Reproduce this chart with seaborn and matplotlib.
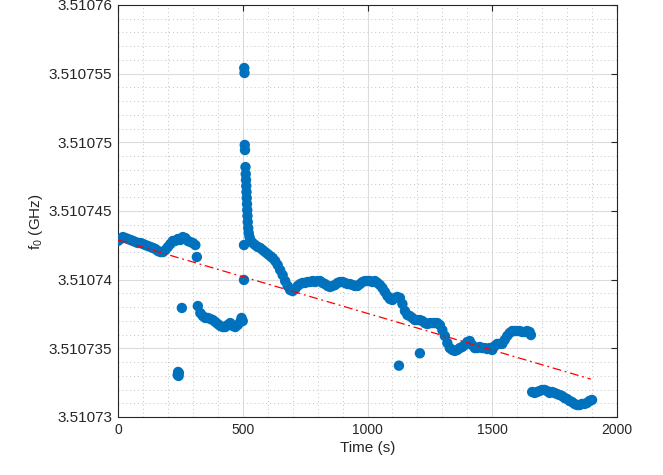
import matplotlib
matplotlib.use("Agg")
import matplotlib.pyplot as plt
from matplotlib.ticker import MultipleLocator, FuncFormatter
import seaborn as sns
import pandas as pd

# ---- measured resonance frequency f0 (GHz) versus time (s) ----
# early plateau
time_a = [0, 10, 20, 30, 40, 50, 60, 70, 80, 90, 100, 110, 120, 130, 140, 150,
          160, 170, 180, 190, 200, 210, 220, 230, 240, 250, 260, 270, 280, 290, 300, 310]
f0_a = [3.51074282, 3.51074296, 3.51074310, 3.51074303, 3.51074296, 3.51074289,
        3.51074282, 3.51074274, 3.51074267, 3.51074267, 3.51074260, 3.51074252,
        3.51074245, 3.51074238, 3.51074231, 3.51074223, 3.51074209, 3.51074201,
        3.51074201, 3.51074216, 3.51074238, 3.51074260, 3.51074282, 3.51074282,
        3.51074296, 3.51074289, 3.51074310, 3.51074303, 3.51074282, 3.51074274,
        3.51074267, 3.51074252]

# lower branch
time_b = [320, 330, 340, 350, 360, 370, 380, 390, 400, 410, 420, 430, 440, 450,
          460, 470, 480, 490, 495, 500]
f0_b = [3.51073808, 3.51073757, 3.51073735, 3.51073721, 3.51073721, 3.51073714,
        3.51073706, 3.51073692, 3.51073677, 3.51073663, 3.51073655, 3.51073655,
        3.51073670, 3.51073684, 3.51073663, 3.51073655, 3.51073670, 3.51073692,
        3.51073721, 3.51073699]

# jump and relaxation
time_s = [506, 507, 508, 509, 511, 512, 513, 514, 515, 516, 517, 518, 519, 520,
          522, 524, 527, 530]
f0_s = [3.51075541, 3.51075505, 3.51074981, 3.51074944, 3.51074820, 3.51074769,
        3.51074726, 3.51074682, 3.51074638, 3.51074595, 3.51074551, 3.51074507,
        3.51074464, 3.51074420, 3.51074376, 3.51074340, 3.51074311, 3.51074289]

# main drift
time_c = [540, 550, 560, 570, 580, 590, 600, 610, 620, 630, 640, 650, 660, 670,
          680, 690, 700, 710, 720, 730, 740, 750, 760, 770, 780, 790, 800, 810,
          820, 830, 840, 850, 860, 870, 880, 890, 900, 910, 920, 930, 940, 950,
          960, 970, 980, 990, 1000, 1010, 1020, 1030, 1040, 1050, 1060, 1070,
          1080, 1090, 1100, 1110, 1120, 1130, 1140, 1150, 1160, 1170, 1180, 1190,
          1200, 1210, 1220, 1230, 1240, 1250, 1260, 1270, 1280, 1290, 1300, 1310,
          1320, 1330, 1340, 1350, 1360, 1370, 1380, 1390, 1400, 1410, 1420, 1430,
          1440, 1450, 1460, 1470, 1480, 1490, 1500, 1510, 1520, 1530, 1540, 1550,
          1560, 1570, 1580, 1590, 1600, 1610, 1620, 1630, 1640, 1650, 1655]
f0_c = [3.51074267, 3.51074252, 3.51074238, 3.51074231, 3.51074216, 3.51074201,
        3.51074187, 3.51074172, 3.51074158, 3.51074136, 3.51074107, 3.51074070,
        3.51074034, 3.51073990, 3.51073954, 3.51073925, 3.51073917, 3.51073932,
        3.51073954, 3.51073968, 3.51073976, 3.51073976, 3.51073983, 3.51073983,
        3.51073990, 3.51073983, 3.51073990, 3.51073990, 3.51073976, 3.51073968,
        3.51073954, 3.51073947, 3.51073954, 3.51073961, 3.51073976, 3.51073983,
        3.51073983, 3.51073976, 3.51073968, 3.51073968, 3.51073961, 3.51073954,
        3.51073954, 3.51073968, 3.51073983, 3.51073990, 3.51073990, 3.51073990,
        3.51073983, 3.51073990, 3.51073976, 3.51073961, 3.51073939, 3.51073910,
        3.51073881, 3.51073859, 3.51073852, 3.51073867, 3.51073874, 3.51073867,
        3.51073823, 3.51073772, 3.51073743, 3.51073735, 3.51073721, 3.51073706,
        3.51073706, 3.51073706, 3.51073699, 3.51073684, 3.51073677, 3.51073684,
        3.51073684, 3.51073684, 3.51073684, 3.51073670, 3.51073633, 3.51073590,
        3.51073539, 3.51073502, 3.51073488, 3.51073481, 3.51073488, 3.51073502,
        3.51073510, 3.51073524, 3.51073546, 3.51073553, 3.51073524, 3.51073502,
        3.51073502, 3.51073510, 3.51073502, 3.51073502, 3.51073495, 3.51073502,
        3.51073488, 3.51073517, 3.51073532, 3.51073532, 3.51073532, 3.51073561,
        3.51073590, 3.51073612, 3.51073626, 3.51073626, 3.51073626, 3.51073626,
        3.51073619, 3.51073619, 3.51073626, 3.51073619, 3.51073597]

# final low plateau
time_d = [1660, 1670, 1680, 1690, 1700, 1710, 1720, 1730, 1740, 1750, 1760, 1770,
          1780, 1790, 1800, 1810, 1820, 1830, 1840, 1850, 1860, 1870, 1880, 1890, 1900]
f0_d = [3.51073182, 3.51073175, 3.51073182, 3.51073189, 3.51073197, 3.51073197,
        3.51073189, 3.51073175, 3.51073182, 3.51073175, 3.51073167, 3.51073160,
        3.51073153, 3.51073138, 3.51073131, 3.51073117, 3.51073109, 3.51073095,
        3.51073087, 3.51073087, 3.51073095, 3.51073095, 3.51073102, 3.51073117,
        3.51073124]

# isolated readings
time_o = [239, 241, 243, 244, 256, 316, 505, 505, 1126, 1210]
f0_o = [3.51073306, 3.51073328, 3.51073299, 3.51073320, 3.51073794, 3.51074165,
        3.51074252, 3.51073998, 3.51073374, 3.51073464]

# linear drift fit
fit_time = [0, 1895]
fit_f0 = [3.51074289, 3.51073276]

# ---- assemble ----
time_all = time_a + time_b + time_s + time_c + time_d + time_o
f0_all = f0_a + f0_b + f0_s + f0_c + f0_d + f0_o
df = pd.DataFrame({"time": time_all, "f0": f0_all})
df_fit = pd.DataFrame({"time": fit_time, "f0": fit_f0})

sns.set_style("white")
plt.rcParams["font.family"] = ["Liberation Sans", "DejaVu Sans"]
plt.rcParams["mathtext.fontset"] = "custom"
plt.rcParams["mathtext.rm"] = "Liberation Sans"
plt.rcParams["mathtext.it"] = "Liberation Sans"

fig = plt.figure(figsize=(6.63, 4.75), dpi=100)
ax = fig.add_axes([118 / 663, 58 / 475, 499 / 663, 412 / 475])

blue = "#0072BD"
sns.scatterplot(data=df, x="time", y="f0", ax=ax, color=blue, s=56,
                edgecolor="none", linewidth=0, legend=False, zorder=3)
sns.lineplot(data=df_fit, x="time", y="f0", ax=ax, color="red", lw=0.9,
             linestyle=(0, (7, 3, 1.5, 3)), legend=False, zorder=4)

ax.set_xlim(0, 2000)
ax.set_ylim(3.51073, 3.51076)
ax.xaxis.set_major_locator(MultipleLocator(500))
ax.xaxis.set_minor_locator(MultipleLocator(100))
ax.yaxis.set_major_locator(MultipleLocator(0.000005))
ax.yaxis.set_minor_locator(MultipleLocator(0.000001))
ax.yaxis.set_major_formatter(FuncFormatter(lambda v, p: f"{v:.7g}"))

ax.grid(True, which="major", color="#dcdcdc", lw=0.8, ls="-")
ax.grid(True, which="minor", color="#c4c4c4", lw=0.7, ls=(0, (1, 3)))
ax.set_axisbelow(True)

for sp in ax.spines.values():
    sp.set_visible(True)
    sp.set_color("#262626")
    sp.set_linewidth(0.8)

ax.tick_params(which="major", direction="in", length=4, width=0.8,
               top=True, right=True, color="#262626",
               labelcolor="#262626", pad=4)
ax.tick_params(axis="x", which="major", labelsize=10)
ax.tick_params(axis="y", which="major", labelsize=11)
ax.tick_params(which="minor", length=0, top=True, right=True)

ax.set_xlabel("Time (s)", fontsize=11, color="#262626", labelpad=3)
ax.set_ylabel(r"f$_{0}$ (GHz)", fontsize=11, color="#262626")
ax.yaxis.set_label_coords(-0.147, 0.473)

fig.savefig("out.png", dpi=100, facecolor="white")
